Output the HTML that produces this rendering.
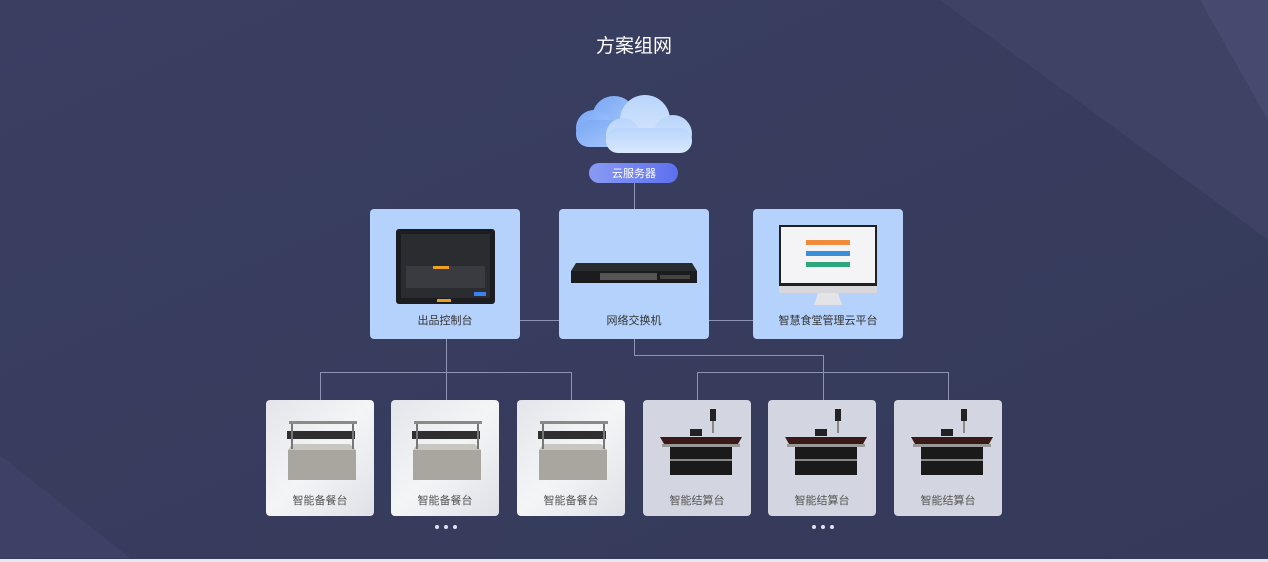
<!DOCTYPE html>
<html><head><meta charset="utf-8"><style>
html,body{margin:0;padding:0;width:1268px;height:562px;overflow:hidden;background:#383c5e;}
svg{display:block}
text{font-family:"Liberation Sans","Noto Sans CJK SC",sans-serif;}
</style></head><body>
<svg width="1268" height="562" viewBox="0 0 1268 562" xmlns="http://www.w3.org/2000/svg">
<defs>
<linearGradient id="bg" x1="0" y1="0" x2="1" y2="1">
<stop offset="0" stop-color="#3a3f62"/><stop offset="1" stop-color="#353a5a"/></linearGradient>
<linearGradient id="pill" x1="0" y1="0" x2="1" y2="0">
<stop offset="0" stop-color="#8a9af2"/><stop offset="1" stop-color="#5c70f0"/></linearGradient>
<linearGradient id="cl1" x1="0" y1="0" x2="1" y2="1">
<stop offset="0" stop-color="#7aa8f5"/><stop offset="1" stop-color="#a9c9fb"/></linearGradient>
<linearGradient id="cl2" x1="0" y1="0" x2="0" y2="1">
<stop offset="0" stop-color="#b9d5fc"/><stop offset="1" stop-color="#d8e8fd"/></linearGradient>
<linearGradient id="card" x1="0" y1="0" x2="1" y2="1">
<stop offset="0" stop-color="#e4e5ea"/><stop offset="0.5" stop-color="#f4f5f7"/><stop offset="1" stop-color="#dfe1e7"/></linearGradient>
</defs>
<rect width="1268" height="562" fill="url(#bg)"/>
<polygon points="940,0 1268,0 1268,240" fill="#3e4366"/>
<polygon points="1200,0 1268,0 1268,120" fill="#454a6e"/>
<polygon points="0,455 0,558 130,558" fill="#3d4165"/>
<rect x="0" y="559" width="1268" height="3" fill="#e8e8ec"/>

<text x="634" y="52" fill="#fff" font-size="19" text-anchor="middle">方案组网</text>

<!-- cloud -->
<g>
<circle cx="614" cy="118" r="22" fill="url(#cl1)"/>
<circle cx="594" cy="128" r="18" fill="url(#cl1)"/>
<rect x="576" y="120" width="60" height="27" rx="13" fill="url(#cl1)"/>
<circle cx="645" cy="120" r="25" fill="url(#cl2)"/>
<circle cx="623" cy="135" r="17" fill="url(#cl2)"/>
<circle cx="673" cy="134" r="19" fill="url(#cl2)"/>
<rect x="606" y="128" width="86" height="25" rx="12" fill="url(#cl2)"/>
</g>
<rect x="589" y="163" width="89" height="20" rx="10" fill="url(#pill)"/>
<text x="634" y="177" fill="#fff" font-size="11" text-anchor="middle">云服务器</text>

<!-- lines -->
<g stroke="#8e93b3" stroke-width="1" fill="none">
<path d="M634.5 183V209"/>
<path d="M520 320.5H559M709 320.5H753"/>
<path d="M446.5 339V372.5M320.5 400V372.5H571.5V400M446.5 372V400"/>
<path d="M634.5 339V355.5H823.5V372.5M697.5 400V372.5H948.5V400M823.5 372V400"/>
</g>

<!-- top boxes -->
<rect x="370" y="209" width="150" height="130" rx="4" fill="#b4d2fb"/>
<rect x="559" y="209" width="150" height="130" rx="4" fill="#b4d2fb"/>
<rect x="753" y="209" width="150" height="130" rx="4" fill="#b4d2fb"/>
<text x="445" y="324" fill="#333" font-size="11" text-anchor="middle">出品控制台</text>
<text x="634" y="324" fill="#333" font-size="11" text-anchor="middle">网络交换机</text>
<text x="828" y="324" fill="#333" font-size="11" text-anchor="middle">智慧食堂管理云平台</text>

<!-- tablet -->
<rect x="396" y="229" width="99" height="75" rx="3" fill="#1c1d20"/>
<rect x="401" y="234" width="89" height="64" fill="#2b2c30"/>
<rect x="406" y="266" width="79" height="22" fill="#3a3b40"/>
<rect x="433" y="266" width="16" height="3" fill="#f0a020"/>
<rect x="474" y="292" width="12" height="4" fill="#3a82f0"/>
<rect x="437" y="299" width="14" height="3" fill="#e8a020"/>

<!-- switch -->
<polygon points="576,263 692,263 697,271 571,271" fill="#2a2b2e"/>
<rect x="571" y="271" width="126" height="12" fill="#1b1c1e"/>
<rect x="600" y="273" width="57" height="7" fill="#555" />
<rect x="660" y="275" width="30" height="4" fill="#444"/>

<!-- monitor -->
<rect x="779" y="225" width="98" height="62" fill="#202020"/>
<rect x="781" y="227" width="94" height="56" fill="#f4f4f6"/>
<g>
<rect x="806" y="240" width="44" height="5" fill="#ef8b3b"/>
<rect x="806" y="251" width="44" height="5" fill="#3b8fd8"/>
<rect x="806" y="262" width="44" height="5" fill="#2ea87a"/>
</g>
<rect x="779" y="286" width="98" height="7" fill="#d8d8dc"/>
<polygon points="818,293 838,293 842,305 814,305" fill="#e4e4e8"/>

<!-- bottom cards -->
<g>
<rect x="266" y="400" width="108" height="116" rx="4" fill="url(#card)"/>
<rect x="391" y="400" width="108" height="116" rx="4" fill="url(#card)"/>
<rect x="517" y="400" width="108" height="116" rx="4" fill="url(#card)"/>
<rect x="643" y="400" width="108" height="116" rx="4" fill="#d3d6e0"/>
<rect x="768" y="400" width="108" height="116" rx="4" fill="#d3d6e0"/>
<rect x="894" y="400" width="108" height="116" rx="4" fill="#d3d6e0"/>
</g>
<g id="serve">
<rect x="289" y="421" width="68" height="3" fill="#8a8a88"/>
<rect x="287" y="431" width="68" height="8" fill="#2f2f2f"/>
<rect x="288" y="450" width="68" height="30" fill="#a9a6a0"/>
<polygon points="288,450 356,450 350,444 292,444" fill="#c8c6c0"/>
<rect x="291" y="424" width="2" height="25" fill="#777"/>
<rect x="352" y="424" width="2" height="25" fill="#777"/>
</g>
<use href="#serve" x="125"/>
<use href="#serve" x="251"/>
<g id="chk">
<rect x="710" y="409" width="6" height="12" fill="#222"/>
<rect x="712" y="421" width="2" height="12" fill="#888"/>
<rect x="690" y="429" width="12" height="7" fill="#222"/>
<polygon points="660,437 742,437 738,444 664,444" fill="#3a1a18"/>
<rect x="662" y="444" width="78" height="3" fill="#999"/>
<rect x="670" y="447" width="62" height="28" fill="#1a1a1a"/>
<rect x="670" y="459" width="62" height="2" fill="#888"/>
</g>
<use href="#chk" x="125"/>
<use href="#chk" x="251"/>

<g fill="#555" font-size="11" text-anchor="middle">
<text x="320" y="504">智能备餐台</text>
<text x="445" y="504">智能备餐台</text>
<text x="571" y="504">智能备餐台</text>
<text x="697" y="504">智能结算台</text>
<text x="822" y="504">智能结算台</text>
<text x="948" y="504">智能结算台</text>
</g>
<g fill="#e0e2ee">
<circle cx="437" cy="527" r="2"/><circle cx="446" cy="527" r="2"/><circle cx="455" cy="527" r="2"/>
<circle cx="814" cy="527" r="2"/><circle cx="823" cy="527" r="2"/><circle cx="832" cy="527" r="2"/>
</g>
</svg>
</body></html>
